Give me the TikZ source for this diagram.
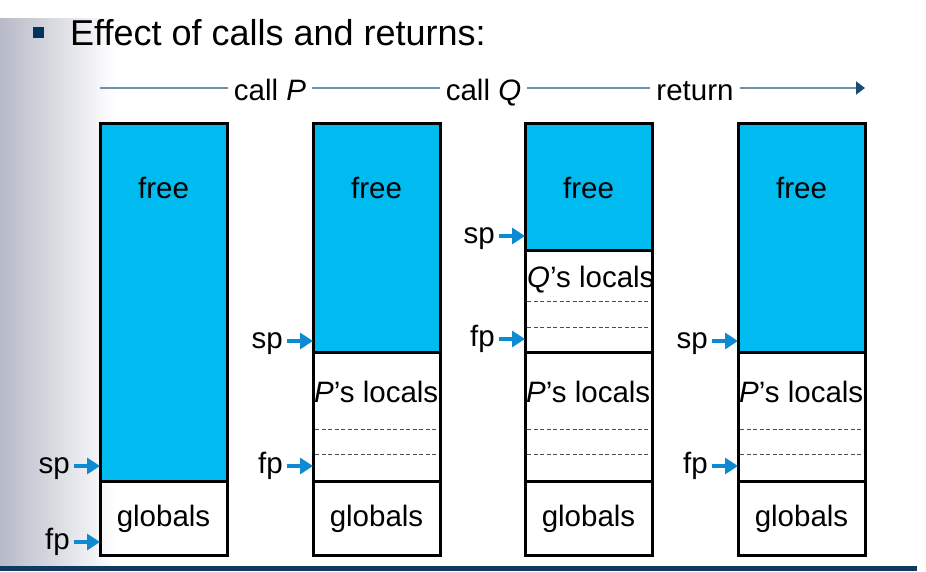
\documentclass[tikz,border=0pt]{standalone}
\usepackage{fontspec}
\setmainfont{Liberation Sans}
\usetikzlibrary{arrows.meta,calc}
\definecolor{cyanfill}{RGB}{0,187,240}
\definecolor{ptrblue}{RGB}{14,138,210}
\definecolor{tlblue}{RGB}{110,145,170}
\definecolor{tldark}{RGB}{25,75,115}
\definecolor{navy}{RGB}{0,50,95}
\definecolor{barblue}{RGB}{14,58,98}
\definecolor{gradgray}{RGB}{183,186,199}
\newcommand{\boxfont}{\fontsize{29.5}{35}\selectfont}
\newcommand{\titlefont}{\fontsize{36}{43}\selectfont}
\begin{document}
\begin{tikzpicture}[x=1pt,y=-1pt,
  region/.style={draw=black, line width=3pt, anchor=north west, inner sep=0pt, outer sep=0pt, minimum width=127pt},
  freereg/.style={region, fill=cyanfill},
  lbl/.style={font=\boxfont, inner sep=0pt},
  ptrlbl/.style={font=\boxfont, inner sep=0pt, anchor=east, text height=22pt, text depth=7.4pt},
  ptr/.style={draw=ptrblue, line width=3.2pt, -{Triangle[length=13pt,width=16pt]}, shorten <=4pt},
  sepline/.style={draw=black!70, line width=1pt, dash pattern=on 4pt off 2.5pt},
  tllbl/.style={font=\boxfont, inner xsep=6pt, inner ysep=0pt, anchor=base},
  tline/.style={draw=tlblue, line width=2pt}
]
\useasboundingbox (0,0) rectangle (926,571);
% background
\shade[left color=gradgray, right color=white] (0,18) rectangle (115,566);
\fill[barblue] (0,566) rectangle (917,571);
% title
\node[fill=navy, minimum size=11pt, inner sep=0pt, anchor=north west] (bullet) at (33,27) {};
\node[anchor=base west, font=\titlefont, inner sep=0pt] (title) at (70,45) {Effect of calls and returns:};
% timeline
\coordinate (tl0) at (100,88);
\coordinate (tl1) at (865,88);
\node[tllbl] (callP) at (270,100) {call \textit{P}};
\node[tllbl] (callQ) at (483.5,100) {call \textit{Q}};
\node[tllbl] (ret) at (695,100) {return};
\draw[tline] (tl0) -- (tl0 -| callP.west);
\draw[tline] (tl0 -| callP.east) -- (tl0 -| callQ.west);
\draw[tline] (tl0 -| callQ.east) -- (tl0 -| ret.west);
\draw[tline, -{Triangle[length=9pt,width=13pt,color=tldark]}] (tl0 -| ret.east) -- (tl1);
% column 1
\node[freereg, minimum height=358pt] (free1) at (100,123) {};
\node[region, minimum height=74pt] (glob1) at (100,481) {};
\node[lbl, anchor=base] (free1t) at (163.5,198) {free};
\node[lbl, anchor=base] (glob1t) at (163.5,526) {globals};
\node[ptrlbl] (sp1) at (70,466) {sp};
\node[ptrlbl] (fp1) at (70,542) {fp};
\draw[ptr] (sp1.east) -- (sp1.east -| free1.west);
\draw[ptr] (fp1.east) -- (fp1.east -| glob1.west);
% column 2
\node[freereg, minimum height=229pt] (free2) at (313,123) {};
\node[region, minimum height=129pt] (ploc2) at (313,352) {};
\node[region, minimum height=74pt] (glob2) at (313,481) {};
\node[lbl, anchor=base] (free2t) at (376.5,198) {free};
\node[lbl, anchor=base west] (ploc2t) at (314,402) {\textit{P}’s locals};
\node[lbl, anchor=base] (glob2t) at (376.5,526) {globals};
\draw[sepline] ($(ploc2.north west)+(2,77)$) -- ($(ploc2.north east)+(-3,77)$);
\draw[sepline] ($(ploc2.north west)+(2,102)$) -- ($(ploc2.north east)+(-3,102)$);
\node[ptrlbl] (sp2) at (283,341) {sp};
\node[ptrlbl] (fp2) at (283,466) {fp};
\draw[ptr] (sp2.east) -- (sp2.east -| free2.west);
\draw[ptr] (fp2.east) -- (fp2.east -| ploc2.west);
% column 3
\node[freereg, minimum height=127pt] (free3) at (525,123) {};
\node[region, minimum height=102pt] (qloc3) at (525,250) {};
\node[region, minimum height=129pt] (ploc3) at (525,352) {};
\node[region, minimum height=74pt] (glob3) at (525,481) {};
\node[lbl, anchor=base] (free3t) at (588.5,198) {free};
\node[lbl, anchor=base west] (qloc3t) at (527,287) {\textit{Q}’s locals};
\node[lbl, anchor=base west] (ploc3t) at (526,402) {\textit{P}’s locals};
\node[lbl, anchor=base] (glob3t) at (588.5,526) {globals};
\draw[sepline] ($(qloc3.north west)+(2,51)$) -- ($(qloc3.north east)+(-3,51)$);
\draw[sepline] ($(qloc3.north west)+(2,77)$) -- ($(qloc3.north east)+(-3,77)$);
\draw[sepline] ($(ploc3.north west)+(2,77)$) -- ($(ploc3.north east)+(-3,77)$);
\draw[sepline] ($(ploc3.north west)+(2,102)$) -- ($(ploc3.north east)+(-3,102)$);
\node[ptrlbl] (sp3) at (495,236) {sp};
\node[ptrlbl] (fp3) at (495,339) {fp};
\draw[ptr] (sp3.east) -- (sp3.east -| free3.west);
\draw[ptr] (fp3.east) -- (fp3.east -| qloc3.west);
% column 4
\node[freereg, minimum height=229pt] (free4) at (738,123) {};
\node[region, minimum height=129pt] (ploc4) at (738,352) {};
\node[region, minimum height=74pt] (glob4) at (738,481) {};
\node[lbl, anchor=base] (free4t) at (801.5,198) {free};
\node[lbl, anchor=base west] (ploc4t) at (739,402) {\textit{P}’s locals};
\node[lbl, anchor=base] (glob4t) at (801.5,526) {globals};
\draw[sepline] ($(ploc4.north west)+(2,77)$) -- ($(ploc4.north east)+(-3,77)$);
\draw[sepline] ($(ploc4.north west)+(2,102)$) -- ($(ploc4.north east)+(-3,102)$);
\node[ptrlbl] (sp4) at (708,341) {sp};
\node[ptrlbl] (fp4) at (708,466) {fp};
\draw[ptr] (sp4.east) -- (sp4.east -| free4.west);
\draw[ptr] (fp4.east) -- (fp4.east -| ploc4.west);
\end{tikzpicture}
\end{document}
